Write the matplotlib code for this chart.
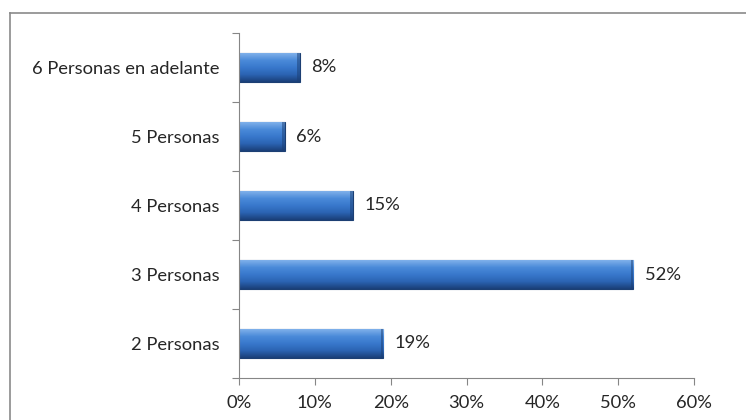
import matplotlib.pyplot as plt
import numpy as np
from matplotlib.colors import LinearSegmentedColormap
from matplotlib.lines import Line2D

categories = ["2 Personas", "3 Personas", "4 Personas", "5 Personas", "6 Personas en adelante"]
values = [19, 52, 15, 6, 8]
xticks = [0, 10, 20, 30, 40, 50, 60]

plt.rcParams["font.family"] = ["Lato", "DejaVu Sans"]
FS = 13.2

W, H = 746, 420
fig = plt.figure(figsize=(W / 100, H / 100), dpi=100)
fig.patch.set_facecolor("white")

# axes placed in pixel coords: x 239..694, y 33..378 (from top)
ax = fig.add_axes([239 / W, 1 - 378 / H, (694 - 239) / W, (378 - 33) / H])

y = np.arange(len(categories))
bars = ax.barh(y, values, height=0.41, color="#2f6cc0", edgecolor="#1c3f73", linewidth=0.8, zorder=2)

# vertical gradient to mimic the bevelled bars
grad_cmap = LinearSegmentedColormap.from_list(
    "bev", ["#1a3f78", "#2b63b2", "#3878cc", "#4a8ad9", "#7fb0ea"]
)
grad = np.linspace(0, 1, 64).reshape(-1, 1)
for b, v in zip(bars, values):
    x0, y0 = b.get_x(), b.get_y()
    w, h = b.get_width(), b.get_height()
    im = ax.imshow(grad, cmap=grad_cmap, aspect="auto", origin="lower",
                   extent=[x0, x0 + w, y0, y0 + h], zorder=2.5)
    im.set_clip_path(b)
    # darker end caps
    ax.fill_between([x0 + w - 0.3, x0 + w], y0, y0 + h, color="#1c3f73", alpha=0.5, zorder=2.6, lw=0)
    ax.text(x0 + w + 1.5, y0 + h / 2, f"{v}%", va="center", ha="left",
            fontsize=FS, color="#262626")

ax.set_xlim(0, 60)
ax.set_ylim(-0.5, len(categories) - 0.5)
ax.set_xticks(xticks)
ax.set_xticklabels([f"{t}%" for t in xticks], fontsize=FS, color="#262626")
ax.set_yticks(np.arange(-0.5, len(categories), 1), minor=False)
ax.set_yticklabels([])
ax.set_yticks(y, minor=True)
ax.set_yticklabels(categories, minor=True, fontsize=FS, color="#262626")
ax.tick_params(axis="y", which="minor", length=0, pad=14)
ax.tick_params(axis="y", which="major", length=5, color="#868686", direction="out")
ax.tick_params(axis="x", length=5, color="#868686", pad=7)

for s in ["top", "right"]:
    ax.spines[s].set_visible(False)
for s in ["left", "bottom"]:
    ax.spines[s].set_color("#868686")
    ax.spines[s].set_linewidth(0.8)

# outer chart border (only top and left visible in the crop)
fig.add_artist(Line2D([9.5 / W, 1], [1 - 12.5 / H, 1 - 12.5 / H], color="#8a8a8a", lw=1.2))
fig.add_artist(Line2D([9.5 / W, 9.5 / W], [0, 1 - 12.5 / H], color="#8a8a8a", lw=1.2))

fig.savefig("out.png", dpi=100)
